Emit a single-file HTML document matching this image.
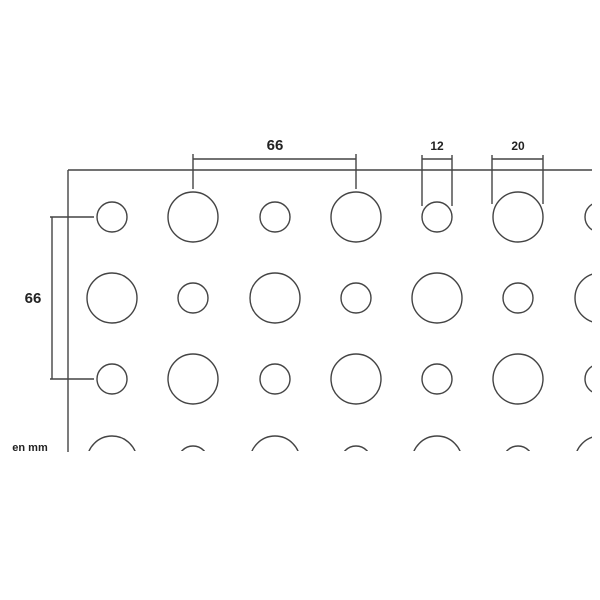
<!DOCTYPE html>
<html><head><meta charset="utf-8"><style>html,body{margin:0;padding:0;background:#fff}svg{display:block}</style></head>
<body>
<svg width="600" height="600" viewBox="0 0 600 600" xmlns="http://www.w3.org/2000/svg">
<defs><clipPath id="c"><rect x="69" y="171" width="523" height="280"/></clipPath></defs>
<g fill="none" stroke="#444" stroke-width="1.4">
<line x1="68" y1="170" x2="592" y2="170"/>
<line x1="68" y1="170" x2="68" y2="452"/>
<g clip-path="url(#c)">
<!-- row 1 -->
<circle cx="112" cy="217" r="15"/><circle cx="193" cy="217" r="25"/><circle cx="275" cy="217" r="15"/><circle cx="356" cy="217" r="25"/><circle cx="437" cy="217" r="15"/><circle cx="518" cy="217" r="25"/><circle cx="600" cy="217" r="15"/>
<!-- row 2 -->
<circle cx="112" cy="298" r="25"/><circle cx="193" cy="298" r="15"/><circle cx="275" cy="298" r="25"/><circle cx="356" cy="298" r="15"/><circle cx="437" cy="298" r="25"/><circle cx="518" cy="298" r="15"/><circle cx="600" cy="298" r="25"/>
<!-- row 3 -->
<circle cx="112" cy="379" r="15"/><circle cx="193" cy="379" r="25"/><circle cx="275" cy="379" r="15"/><circle cx="356" cy="379" r="25"/><circle cx="437" cy="379" r="15"/><circle cx="518" cy="379" r="25"/><circle cx="600" cy="379" r="15"/>
<!-- row 4 -->
<circle cx="112" cy="461" r="25"/><circle cx="193" cy="461" r="15"/><circle cx="275" cy="461" r="25"/><circle cx="356" cy="461" r="15"/><circle cx="437" cy="461" r="25"/><circle cx="518" cy="461" r="15"/><circle cx="600" cy="461" r="25"/>
</g>
<!-- top 66 -->
<line x1="193" y1="159" x2="356" y2="159"/>
<line x1="193" y1="154" x2="193" y2="189"/>
<line x1="356" y1="154" x2="356" y2="189"/>
<!-- 12 -->
<line x1="422" y1="159" x2="452" y2="159"/>
<line x1="422" y1="155" x2="422" y2="206"/>
<line x1="452" y1="155" x2="452" y2="206"/>
<!-- 20 -->
<line x1="492" y1="159" x2="543" y2="159"/>
<line x1="492" y1="155" x2="492" y2="204"/>
<line x1="543" y1="155" x2="543" y2="204"/>
<!-- left 66 -->
<line x1="52" y1="217" x2="52" y2="379"/>
<line x1="50" y1="217" x2="94" y2="217"/>
<line x1="50" y1="379" x2="94" y2="379"/>
</g>
<g font-family="Liberation Sans, sans-serif" font-weight="bold" fill="#222" text-anchor="middle">
<text x="275" y="150" font-size="15">66</text>
<text x="437" y="150" font-size="12">12</text>
<text x="518" y="150" font-size="12">20</text>
<text x="33" y="303" font-size="15">66</text>
<text x="30" y="451" font-size="11">en mm</text>
</g>
</svg>
</body></html>
